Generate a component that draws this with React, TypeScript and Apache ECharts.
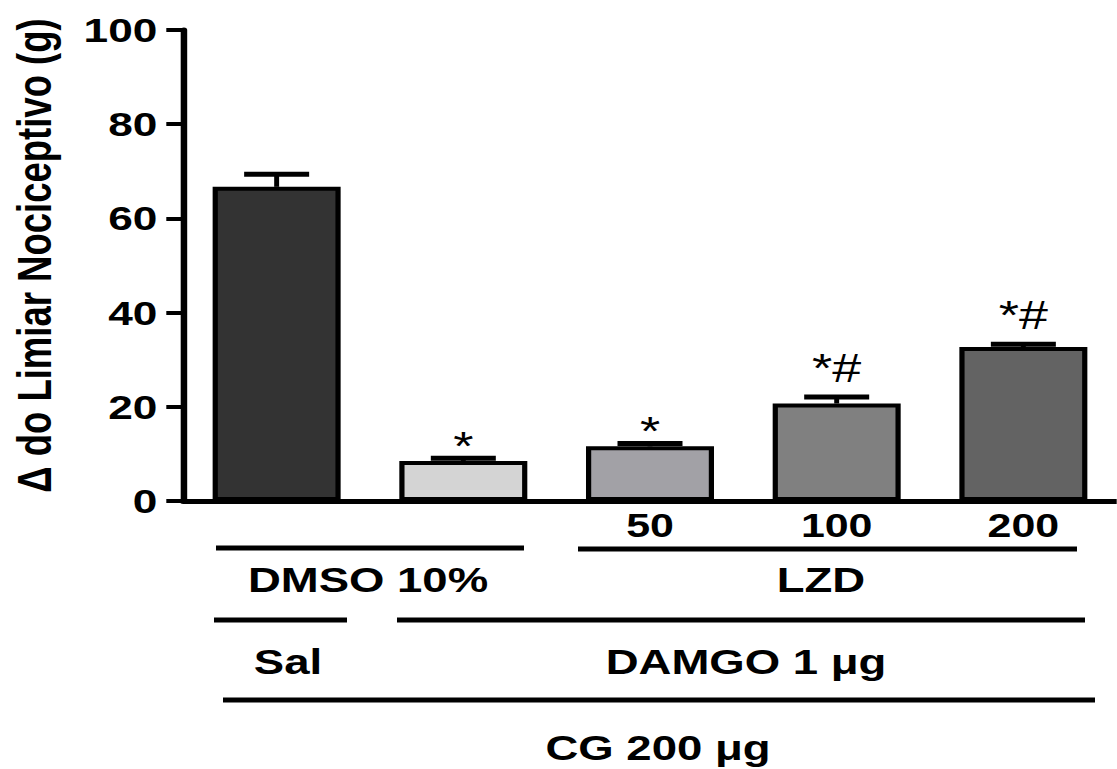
import React, { useEffect, useRef } from "react";
import * as echarts from "echarts";

// ---- data ----
const categories = ["Sal + DMSO", "DAMGO + DMSO", "DAMGO + LZD 50", "DAMGO + LZD 100", "DAMGO + LZD 200"];
const doseLabels = ["", "", "50", "100", "200"];
const means = [66.7, 8.5, 11.6, 20.7, 32.7];
const sems = [2.7, 0.6, 0.6, 1.4, 0.6];
const annotations = ["", "*", "*", "*#", "*#"];
const barColors = ["#333333", "#d4d4d4", "#a2a1a6", "#808080", "#636363"];
const yMin = 0;
const yMax = 100;
const yInterval = 20;
const yAxisTitle = "Δ do Limiar Nociceptivo (g)";
const row1Labels = ["DMSO 10%", "LZD"];
const row2Labels = ["Sal", "DAMGO 1 μg"];
const row3Labels = ["CG 200 μg"];

// ---- layout ----
const SX = 1.3; // horizontal stretch of the original figure
const W = Math.round(1117 / SX);
const H = 769;
const FONT = "'Liberation Sans', Arial, sans-serif";
const ux = (realX: number) => realX / SX;

export default function App() {
  const ref = useRef<HTMLDivElement>(null);

  useEffect(() => {
    if (!ref.current) return;
    const chart = echarts.init(ref.current, null, { renderer: "svg" });

    const groupText = (text: string, realX: number, y: number) => ({
      type: "text",
      x: ux(realX),
      y,
      style: {
        text,
        fontSize: 35,
        fontWeight: "bold",
        fontFamily: FONT,
        fill: "#000",
        align: "center",
        verticalAlign: "middle",
      },
    });
    const groupLine = (realX1: number, realX2: number, y: number) => ({
      type: "line",
      shape: { x1: ux(realX1), y1: y, x2: ux(realX2), y2: y },
      style: { stroke: "#000", lineWidth: 5 },
    });

    const option: any = {
      animation: false,
      backgroundColor: "#fff",
      grid: {
        left: ux(183),
        top: 30,
        width: ux(1120) - ux(183),
        height: 471,
        containLabel: false,
      },
      xAxis: {
        type: "category",
        data: categories,
        axisTick: { show: false },
        axisLine: { show: true, lineStyle: { color: "#000", width: 5 } },
        axisLabel: {
          interval: 0,
          margin: 8,
          fontSize: 33,
          fontWeight: "bold",
          fontFamily: FONT,
          color: "#000",
          formatter: (_v: string, i: number) => doseLabels[i],
        },
      },
      yAxis: {
        type: "value",
        min: yMin,
        max: yMax,
        interval: yInterval,
        name: yAxisTitle,
        nameLocation: "middle",
        nameRotate: 90,
        nameGap: 96,
        nameTextStyle: {
          fontSize: 36.5,
          fontWeight: "bold",
          fontFamily: FONT,
          color: "#000",
          padding: [0, 0, 0, 20],
        },
        splitLine: { show: false },
        axisLine: { show: true, lineStyle: { color: "#000", width: 5 } },
        axisTick: { show: true, length: ux(17), lineStyle: { color: "#000", width: 4 } },
        axisLabel: {
          margin: 20,
          fontSize: 34,
          fontWeight: "bold",
          fontFamily: FONT,
          color: "#000",
        },
      },
      series: [
        {
          type: "bar",
          barWidth: ux(128),
          data: means.map((v, i) => ({ value: v, itemStyle: { color: barColors[i] } })),
          itemStyle: { borderColor: "#000", borderWidth: 4 },
          z: 2,
        },
        {
          type: "custom",
          z: 3,
          data: means.map((m, i) => [i, m, m + sems[i]]),
          renderItem: (params: any, api: any) => {
            const i = api.value(0);
            const pMean = api.coord([i, api.value(1)]);
            const pTop = api.coord([i, api.value(2)]);
            const half = ux(65) / 2;
            const label = annotations[params.dataIndex] || "";
            const fs = 40;
            // place glyph ink ~15px above the cap
            const midY = label.includes("#")
              ? pTop[1] - 15 - 0.3465 * fs
              : pTop[1] - 15 + 0.07 * fs;
            return {
              type: "group",
              children: [
                {
                  type: "line",
                  shape: { x1: pMean[0], y1: pMean[1], x2: pTop[0], y2: pTop[1] },
                  style: { stroke: "#000", lineWidth: 3.8 },
                },
                {
                  type: "line",
                  shape: { x1: pTop[0] - half, y1: pTop[1], x2: pTop[0] + half, y2: pTop[1] },
                  style: { stroke: "#000", lineWidth: 5 },
                },
                {
                  type: "text",
                  x: pTop[0],
                  y: midY,
                  style: {
                    text: label,
                    fontSize: fs,
                    fontFamily: FONT,
                    fill: "#000",
                    align: "center",
                    verticalAlign: "middle",
                  },
                },
              ],
            };
          },
        },
      ],
      graphic: [
        groupLine(216, 524, 548),
        groupLine(578, 1077, 549),
        groupText(row1Labels[0], 368, 580),
        groupText(row1Labels[1], 821, 580),
        groupLine(214, 347, 620),
        groupLine(397, 1085, 620),
        groupText(row2Labels[0], 288, 662),
        groupText(row2Labels[1], 746, 662),
        groupLine(223, 1095, 700),
        groupText(row3Labels[0], 658, 748),
      ],
    };

    chart.setOption(option);
    return () => chart.dispose();
  }, []);

  return (
    <div
      ref={ref}
      style={{
        position: "absolute",
        left: 0,
        top: 0,
        width: W,
        height: H,
        transform: `scaleX(${SX})`,
        transformOrigin: "0 0",
        background: "#fff",
      }}
    />
  );
}
